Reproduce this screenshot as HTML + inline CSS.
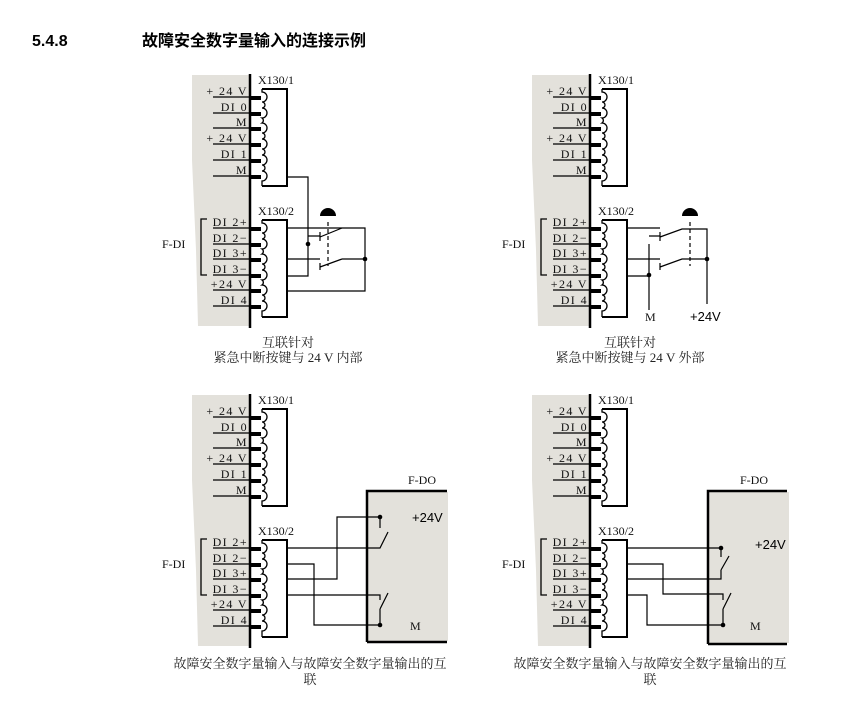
<!DOCTYPE html>
<html><head><meta charset="utf-8">
<style>
html,body{margin:0;padding:0;background:#fff;}
svg{display:block;}
.s{font-family:"Liberation Serif","Noto Serif CJK SC",serif;font-size:12px;fill:#111;}
.l{font-family:"Liberation Serif",serif;font-size:12px;fill:#111;letter-spacing:1.4px;white-space:pre;}
.c{font-family:"Liberation Serif","Noto Serif CJK SC",serif;font-size:13px;fill:#222;}
.h{font-family:"Liberation Sans","Noto Sans CJK SC",sans-serif;font-size:16px;font-weight:bold;fill:#000;}
.a{font-family:"Liberation Sans",sans-serif;font-size:13px;fill:#000;}
</style></head><body>
<svg width="868" height="710" viewBox="0 0 868 710" xmlns="http://www.w3.org/2000/svg">
<text class="h" x="32" y="46">5.4.8</text>
<text class="h" x="142" y="46">故障安全数字量输入的连接示例</text>

<defs>
<g id="base">
<polygon points="192,75 250,75 250,326 198,326 196,250 192,160" fill="#e3e1db"/>
<line x1="250" y1="74" x2="250" y2="328" stroke="#000" stroke-width="2.5"/>
<text class="s" x="258" y="84">X130/1</text>
<text class="s" x="258" y="215">X130/2</text>
<rect x="262" y="89" width="25" height="97" fill="#fff"/>
<rect x="262" y="220" width="25" height="97" fill="#fff"/>
<g stroke="#000" stroke-width="2" fill="none">
<path d="M262,89H287V186H262"/>
<path d="M262,220H287V317H262"/>
</g>
<g stroke="#000" stroke-width="1.3" fill="none">
<path d="M262,89V92 a5,5 0 0 1 0,10 a3,3 0 0 1 0,6 a5,5 0 0 1 0,10 a3,3 0 0 1 0,5 a5,5 0 0 1 0,10 a3,3 0 0 1 0,6 a5,5 0 0 1 0,10 a3,3 0 0 1 0,6 a5,5 0 0 1 0,10 a3,3 0 0 1 0,6 a5,5 0 0 1 0,10 V186"/>
<path d="M262,220V223 a5,5 0 0 1 0,10 a3,3 0 0 1 0,6 a5,5 0 0 1 0,10 a3,3 0 0 1 0,5 a5,5 0 0 1 0,10 a3,3 0 0 1 0,6 a5,5 0 0 1 0,10 a3,3 0 0 1 0,5 a5,5 0 0 1 0,10 a3,3 0 0 1 0,6 a5,5 0 0 1 0,10 V317"/>
<path d="M213,97H250M213,113H250M213,128H250M213,144H250M213,160H250M213,176H250M213,228H250M213,244H250M213,259H250M213,275H250M213,290H250M213,306H250"/>
<path d="M207,219H201V275H207"/>
</g>
<g fill="#000">
<rect x="250" y="96" width="11" height="4"/><rect x="250" y="112" width="11" height="4"/><rect x="250" y="127" width="11" height="4"/><rect x="250" y="143" width="11" height="4"/><rect x="250" y="159" width="11" height="4"/><rect x="250" y="175" width="11" height="4"/>
<rect x="250" y="227" width="11" height="4"/><rect x="250" y="243" width="11" height="4"/><rect x="250" y="258" width="11" height="4"/><rect x="250" y="274" width="11" height="4"/><rect x="250" y="289" width="11" height="4"/><rect x="250" y="305" width="11" height="4"/>
</g>
<g class="l" text-anchor="end">
<text x="248" y="95">+ 24 V</text><text x="248" y="111">DI  0</text><text x="248" y="126">M</text><text x="248" y="142">+ 24 V</text><text x="248" y="158">DI  1</text><text x="248" y="174">M</text>
<text x="248" y="226">DI  2+</text><text x="248" y="242">DI  2−</text><text x="248" y="257">DI  3+</text><text x="248" y="273">DI  3−</text><text x="248" y="288">+24  V</text><text x="248" y="304">DI  4</text>
</g>
<text class="s" x="162" y="248">F-DI</text>
</g>
</defs>

<use href="#base"/>
<use href="#base" transform="translate(340,0)"/>
<use href="#base" transform="translate(0,320)"/>
<use href="#base" transform="translate(340,320)"/>

<!-- top-left wiring -->
<g stroke="#000" stroke-width="1.2" fill="none">
<path d="M287,177H308V276H287"/>
<path d="M287,228H365V291H287"/>
<path d="M308,236H320M320,232V241M320,237L342,228"/>
<path d="M287,259H320M320,263V270M320,267L342,259M342,259H365"/>
<path d="M328,222V266" stroke-dasharray="4,3"/>
</g>
<path d="M320,216a8,8 0 0 1 16,0z" fill="#000"/>
<g fill="#000"><circle cx="308" cy="244" r="2.3"/><circle cx="365" cy="259" r="2.3"/></g>
<text class="c" x="288" y="347" text-anchor="middle">互联针对</text>
<text class="c" x="288" y="362" text-anchor="middle">紧急中断按键与 24 V 内部</text>

<!-- top-right wiring -->
<g stroke="#000" stroke-width="1.2" fill="none">
<path d="M627,228H660M649,236H660M660,232V241M660,237L682,229H707V304"/>
<path d="M627,259H660M660,263V270M660,267L682,259H707"/>
<path d="M649,244V310M627,276H649"/>
<path d="M690,222V266" stroke-dasharray="4,3"/>
</g>
<path d="M682,216a8,8 0 0 1 16,0z" fill="#000"/>
<g fill="#000"><circle cx="707" cy="259" r="2.3"/><circle cx="649" cy="275" r="2.3"/></g>
<text class="s" x="645" y="321">M</text>
<text class="a" x="690" y="321">+24V</text>
<text class="c" x="630" y="347" text-anchor="middle">互联针对</text>
<text class="c" x="630" y="362" text-anchor="middle">紧急中断按键与 24 V 外部</text>

<!-- bottom-left -->
<rect x="368" y="492" width="80" height="149" fill="#e3e1db"/>
<path d="M367,642V491H447M367,642H447" fill="none" stroke="#000" stroke-width="2.5"/>
<text class="s" x="408" y="484">F-DO</text>
<text class="a" x="412" y="522">+24V</text>
<text class="s" x="410" y="630">M</text>
<g stroke="#000" stroke-width="1.2" fill="none">
<path d="M287,548H380L388,532M380,517V528"/>
<path d="M287,579H337V517H380"/>
<path d="M287,564H314V625H380"/>
<path d="M287,595H380V600M380,609L388,593M380,609V625"/>
</g>
<g fill="#000"><circle cx="380" cy="517" r="2.3"/><circle cx="380" cy="625" r="2.3"/></g>
<text class="c" x="310" y="668" text-anchor="middle">故障安全数字量输入与故障安全数字量输出的互</text>
<text class="c" x="310" y="684" text-anchor="middle">联</text>

<!-- bottom-right -->
<rect x="709" y="492" width="80" height="151" fill="#e3e1db"/>
<path d="M708,644V491H787M708,644H787" fill="none" stroke="#000" stroke-width="2.5"/>
<text class="s" x="740" y="484">F-DO</text>
<text class="a" x="755" y="549">+24V</text>
<text class="s" x="750" y="630">M</text>
<g stroke="#000" stroke-width="1.2" fill="none">
<path d="M627,548H721V557M721,570L729,556M721,570V579H627"/>
<path d="M627,564H663V594H723V600M723,609L731,593M723,609V625"/>
<path d="M627,595H647V625H723"/>
</g>
<g fill="#000"><circle cx="721" cy="548" r="2.3"/><circle cx="723" cy="625" r="2.3"/></g>
<text class="c" x="650" y="668" text-anchor="middle">故障安全数字量输入与故障安全数字量输出的互</text>
<text class="c" x="650" y="684" text-anchor="middle">联</text>
</svg>
</body></html>
